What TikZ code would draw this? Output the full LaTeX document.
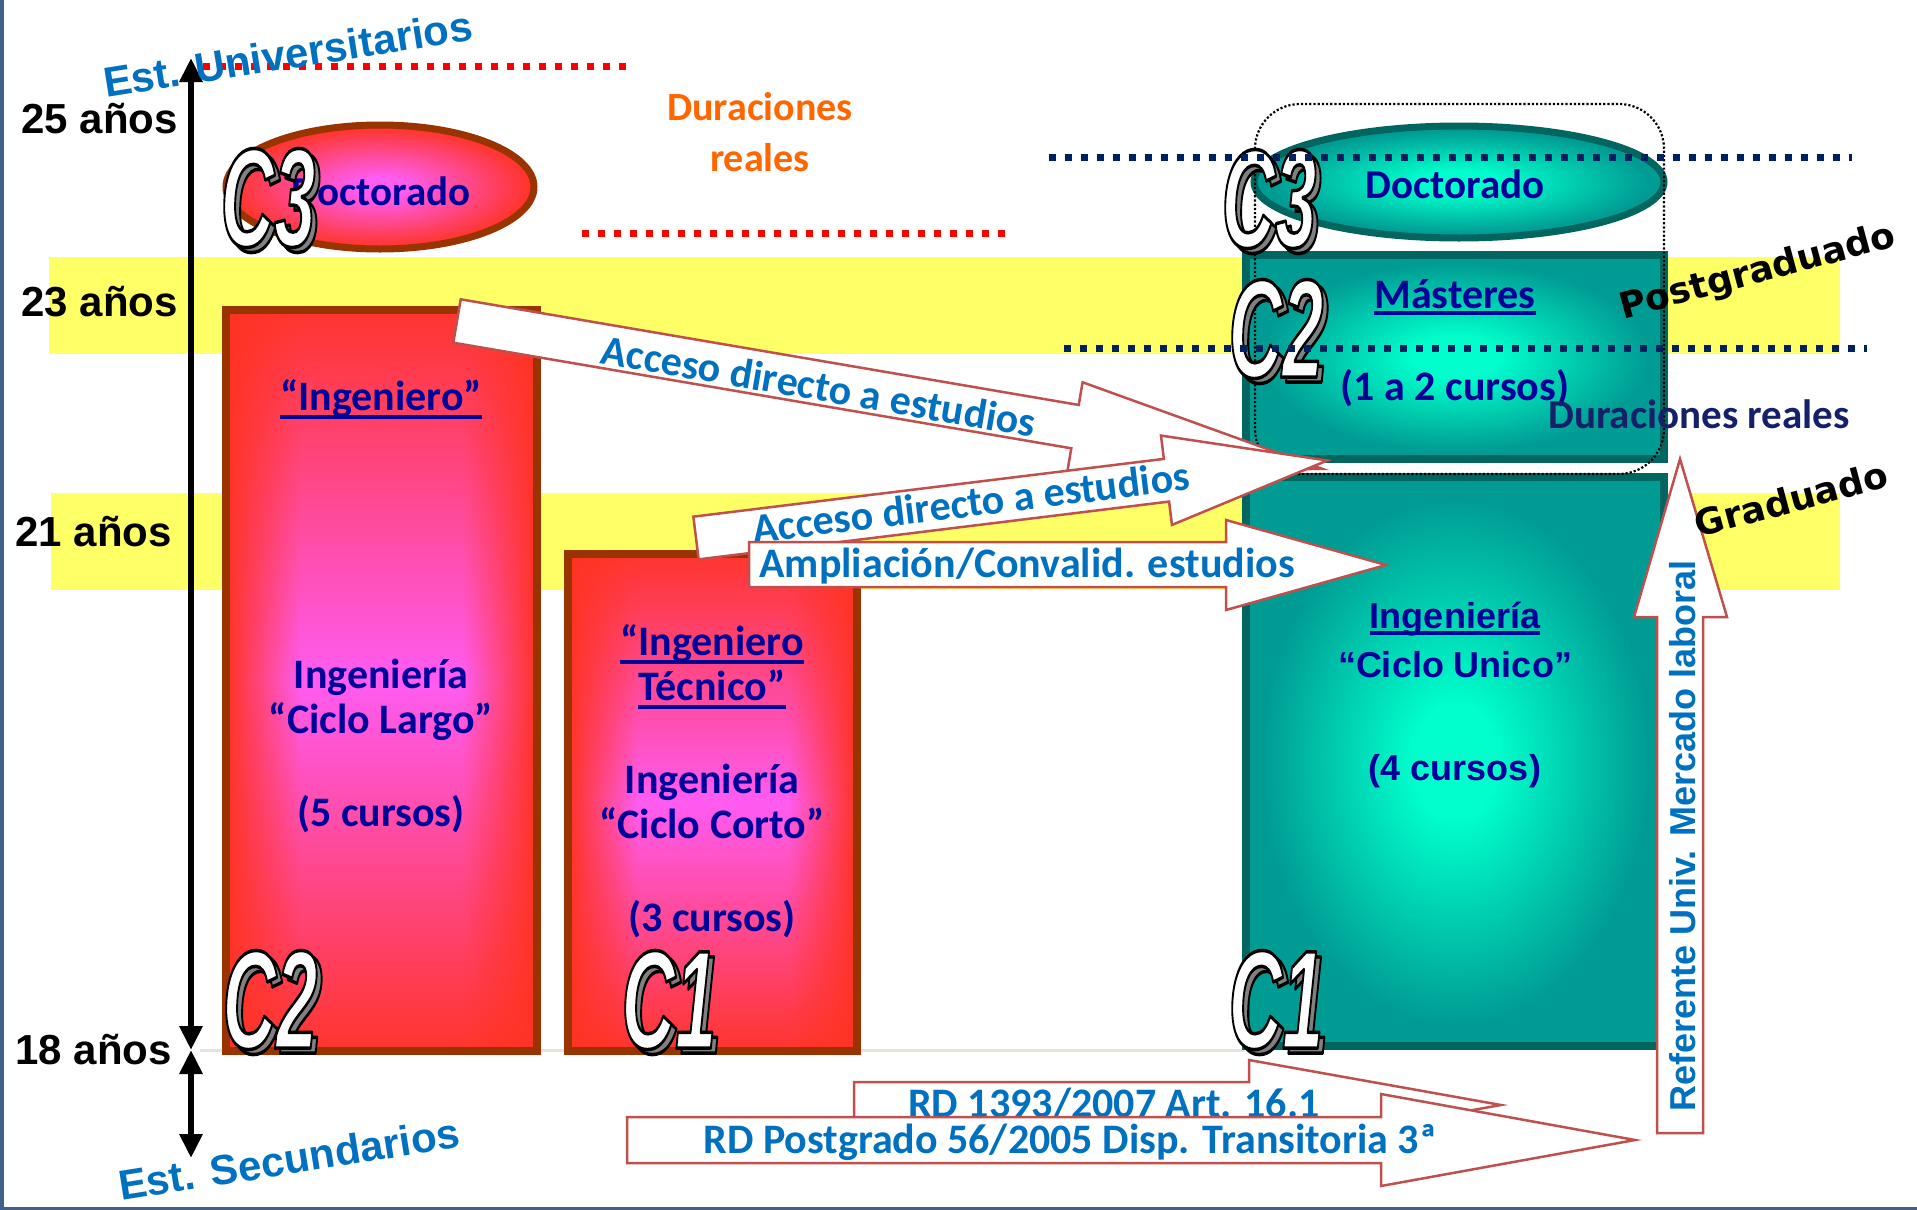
\documentclass[tikz,border=0pt]{standalone}
\usepackage{fontspec}
\usepackage{graphicx}
\setmainfont{Carlito}
\newfontfamily\arialf{Liberation Sans}
\newfontfamily\verdf{DejaVu Sans}
\usetikzlibrary{calc,arrows.meta,fadings}

\definecolor{bandyellow}{HTML}{FFFF66}
\definecolor{dkblue}{HTML}{000099}
\definecolor{txtblue}{HTML}{0070C0}
\definecolor{durorange}{HTML}{FF6600}
\definecolor{navydot}{HTML}{002060}
\definecolor{navytxt}{HTML}{14206A}
\definecolor{arrowedge}{HTML}{C0504D}
\definecolor{boxred}{HTML}{FF3322}
\definecolor{boxmag}{HTML}{FF5CF2}
\definecolor{brownedge}{HTML}{993300}
\definecolor{tealedge}{HTML}{00665F}
\definecolor{tealout}{HTML}{009C94}
\definecolor{tealin}{HTML}{00FFCC}
\definecolor{framecol}{HTML}{3F6190}
\definecolor{shadowgray}{HTML}{808080}
\definecolor{line18}{HTML}{E6E4D6}

% gradients for the boxes and ellipses
\pgfdeclareradialshading{tealglow}{\pgfpoint{0bp}{0bp}}{color(0bp)=(tealin); color(5bp)=(tealin); color(23bp)=(tealout); color(50bp)=(tealout)}
\pgfdeclareradialshading{redglow}{\pgfpoint{0bp}{0bp}}{color(0bp)=(boxmag); color(4bp)=(boxmag); color(25bp)=(boxred); color(50bp)=(boxred)}
\pgfdeclarehorizontalshading{redcolumn}{100bp}{color(0bp)=(boxred); color(25bp)=(boxred); color(37bp)=(boxmag); color(63bp)=(boxmag); color(75bp)=(boxred); color(100bp)=(boxred)}
\tikzfading[name=redends, top color=transparent!5, bottom color=transparent!5, middle color=transparent!100]

\tikzset{
  reddots/.style={draw=red, line width=7pt, dash pattern=on 7pt off 9pt},
  navydots/.style={draw=navydot, line width=7pt, dash pattern=on 7pt off 9pt},
  blockarr/.style={draw=arrowedge, fill=white, line width=2.5pt, line join=miter},
  boxtxt/.style={font=\bfseries\fontsize{42}{46}\selectfont, text=dkblue, inner sep=0pt, anchor=base},
  unitxt/.style={font=\arialf\bfseries\fontsize{36}{40}\selectfont, text=dkblue, inner sep=0pt, anchor=base},
  arrtxt/.style={font=\bfseries\fontsize{42}{46}\selectfont, text=txtblue, inner sep=0pt},
  durtxt/.style={font=\bfseries\fontsize{40}{44}\selectfont, inner sep=0pt, anchor=base},
  agelbl/.style={font=\arialf\bfseries\fontsize{42}{46}\selectfont, inner sep=0pt, anchor=east},
  estlbl/.style={font=\arialf\bfseries\fontsize{42}{46}\selectfont, text=txtblue, inner sep=0pt, anchor=base west, rotate=9},
  levellbl/.style={font=\verdf\bfseries\fontsize{36}{40}\selectfont, inner sep=0pt, rotate=15},
  ctag/.style={font=\arialf\bfseries\itshape\fontsize{140}{140}\selectfont, inner sep=0pt},
  uline/.style={line width=3.5pt, dkblue},
  axisline/.style={line width=6pt, {Triangle[width=22pt,length=24pt]}-{Triangle[width=22pt,length=24pt]}},
}

% glyphs filled in the current colour and stroked in black
\newcommand\strokedtext[2]{\special{pdf:literal direct #1 w 0 0 0 RG 1 j 2 Tr}#2\special{pdf:literal direct 0 Tr}}
% outlined cycle tag (C1, C2, C3) with a grey drop shadow
\newcommand\ctagdraw[3]{%
  \node[ctag,text=shadowgray,name=#1-sh] at ($(#2)+(5,5)$) {\scalebox{0.53}[1]{\strokedtext{3.5}{#3}}};
  \node[ctag,text=white,name=#1] at (#2) {\scalebox{0.53}[1]{\strokedtext{3.5}{#3}}};
}
% underline under a text node
\newcommand\ulnode[2][6]{\draw[uline] ([yshift=-#1pt]#2.base west) -- ([yshift=-#1pt]#2.base east);}

\begin{document}
\begin{tikzpicture}[x=1pt,y=-1pt]
\useasboundingbox (0,0) rectangle (1917,1210);
\fill[white] (0,0) rectangle (1917,1210);

% age bands
\fill[bandyellow] (49,257) rectangle (1840,354);
\fill[bandyellow] (51,493) rectangle (1840,590);

% 18-year reference line
\draw[line width=3pt, line18] (200,1050) -- (1245,1050);

% red dotted lines
\draw[reddots] (203,66) -- (627,66);
\draw[reddots] (582,233) -- (1005,233);

% long-cycle engineering column
\shade[shading=redcolumn] (226,310) rectangle (537,1051);
\fill[boxred, path fading=redends] (226,310) rectangle (537,1051);
\draw[brownedge, line width=8pt] (226,310) rectangle (537,1051);

% short-cycle engineering column
\shade[shading=redcolumn] (568,554) rectangle (857,1051);
\fill[boxred, path fading=redends] (568,554) rectangle (857,1051);
\draw[brownedge, line width=8pt] (568,554) rectangle (857,1051);

% old doctorate ellipse
\shade[shading=redglow] (380,187) ellipse [x radius=154, y radius=62];
\draw[brownedge, line width=7pt] (380,187) ellipse [x radius=154, y radius=62];

% new doctorate ellipse
\shade[shading=tealglow] (1459,182) ellipse [x radius=205, y radius=56];
\draw[tealedge, line width=7pt] (1459,182) ellipse [x radius=205, y radius=56];

% masters box
\shade[shading=tealglow] (1246,255) rectangle (1664,459);
\draw[tealedge, line width=8pt] (1246,255) rectangle (1664,459);

% single-cycle degree box
\shade[shading=tealglow] (1246,477) rectangle (1664,1046);
\draw[tealedge, line width=8pt] (1246,477) rectangle (1664,1046);

% texts in the boxes
\node[boxtxt] (ingA) at (381,410) {“Ingeniero”}; \ulnode[7]{ingA}
\node[boxtxt] (ingAl1) at (381,688) {Ingeniería};
\node[boxtxt] (ingAl2) at (381,733) {“Ciclo Largo”};
\node[boxtxt] (ingAl3) at (381,826) {(5 cursos)};

\node[boxtxt] (ingT1) at (712,655) {“Ingeniero}; \ulnode[7]{ingT1}
\node[boxtxt] (ingT2) at (712,700) {Técnico”}; \ulnode[7]{ingT2}
\node[boxtxt] (ingTl1) at (712,793) {Ingeniería};
\node[boxtxt] (ingTl2) at (712,838) {“Ciclo Corto”};
\node[boxtxt] (ingTl3) at (712,931) {(3 cursos)};

\node[boxtxt, font=\bfseries\fontsize{41}{46}\selectfont] (docL) at (381,205) {Doctorado};
\node[boxtxt, font=\bfseries\fontsize{41}{46}\selectfont] (docR) at (1455,198) {Doctorado};
\node[boxtxt] (mast) at (1455,308) {Másteres}; \ulnode[5]{mast}
\node[boxtxt] (mastdur) at (1455,400) {(1 a 2 cursos)};

\node[unitxt] (ingU1) at (1455,628) {Ingeniería}; \ulnode[5]{ingU1}
\node[unitxt] (ingU2) at (1455,677) {“Ciclo Unico”};
\node[unitxt] (ingU3) at (1455,780) {(4 cursos)};

% postgraduate frame
\draw[black, line width=2.2pt, dash pattern=on 2.2pt off 2pt, rounded corners=45pt] (1255,104) rectangle (1664,474);

% block arrows
\begin{scope}[shift={(457,321)}, rotate=-9.7]
  \draw[blockarr] (0,-22) -- (627,-22) -- (627,-45) -- (878,0) -- (627,45) -- (627,22) -- (0,22) -- cycle;
\end{scope}
\node[arrtxt, rotate=-9.7] (acc1) at (819,386) {Acceso directo a estudios};

\begin{scope}[shift={(696,538)}, rotate=7]
  \draw[blockarr] (0,-21.5) -- (474,-21.5) -- (474,-45) -- (636,0) -- (474,45) -- (474,21.5) -- (0,21.5) -- cycle;
\end{scope}
\node[arrtxt, rotate=7] (acc2) at (971,502) {Acceso directo a estudios};

\draw[blockarr] (749,542) -- (1226,542) -- (1226,520) -- (1386,565) -- (1226,610) -- (1226,587) -- (749,587) -- cycle;
\node[arrtxt, anchor=base] (ampl) at (1027,577) {Ampliación/Convalid. estudios};

\draw[blockarr] (854,1082) -- (1249,1082) -- (1249,1060) -- (1501,1105) -- (1249,1150) -- (1249,1128) -- (854,1128) -- cycle;
\node[arrtxt, anchor=base] (rd1393) at (1114,1117) {RD 1393/2007 Art. 16.1};

\draw[blockarr] (627,1117) -- (1381,1117) -- (1381,1094) -- (1635,1140) -- (1381,1186) -- (1381,1163) -- (627,1163) -- cycle;
\node[arrtxt, anchor=base] (rd56) at (1070,1153) {RD Postgrado 56/2005 Disp. Transitoria 3ª};

\draw[blockarr] (1657,1133) -- (1657,617) -- (1634,617) -- (1680,459) -- (1727,617) -- (1703,617) -- (1703,1133) -- cycle;
\node[font=\arialf\bfseries\fontsize{36}{40}\selectfont, text=txtblue, inner sep=0pt, rotate=90] (refer) at (1683,836) {Referente Univ. Mercado laboral};

% cycle tags
\ctagdraw{tagC3old}{268,198}{C3}
\ctagdraw{tagC2old}{270,1000}{C2}
\ctagdraw{tagC1old}{669,1000}{C1}
\ctagdraw{tagC3new}{1269,199}{C3}
\ctagdraw{tagC2new}{1276,329}{C2}
\ctagdraw{tagC1new}{1276,1000}{C1}

% navy dotted lines
\draw[navydots] (1049,157) -- (1852,157);
\draw[navydots] (1064,348) -- (1867,348);

% age axis
\coordinate (axtop) at (191,58);
\coordinate (ax18) at (191,1050);
\coordinate (axbot) at (191,1158);
\draw[axisline] (ax18) -- (axtop);
\draw[axisline] (ax18) -- (axbot);

\node[agelbl] (age25) at (178,119) {25 años};
\node[agelbl] (age23) at (178,302) {23 años};
\node[agelbl] (age21) at (172,532) {21 años};
\node[agelbl] (age18) at (172,1050) {18 años};

\node[estlbl] (estU) at (106,98) {Est. Universitarios};
\node[estlbl] (estS) at (121,1201) {Est. Secundarios};

\node[levellbl] (postg) at (1758,273) {Postgraduado};
\node[levellbl] (grad) at (1791,499) {Graduado};

% real duration notes
\node[durtxt, text=durorange] (dur1) at (760,120) {Duraciones};
\node[durtxt, text=durorange] (dur2) at (760,171) {reales};
\node[durtxt, font=\bfseries\fontsize{41}{44}\selectfont, text=navytxt] (dur3) at (1699,428) {Duraciones reales};

% frame
\draw[framecol, line width=3.5pt] (1.75,0) -- (1.75,1208.25) -- (1917,1208.25);
\end{tikzpicture}
\end{document}
